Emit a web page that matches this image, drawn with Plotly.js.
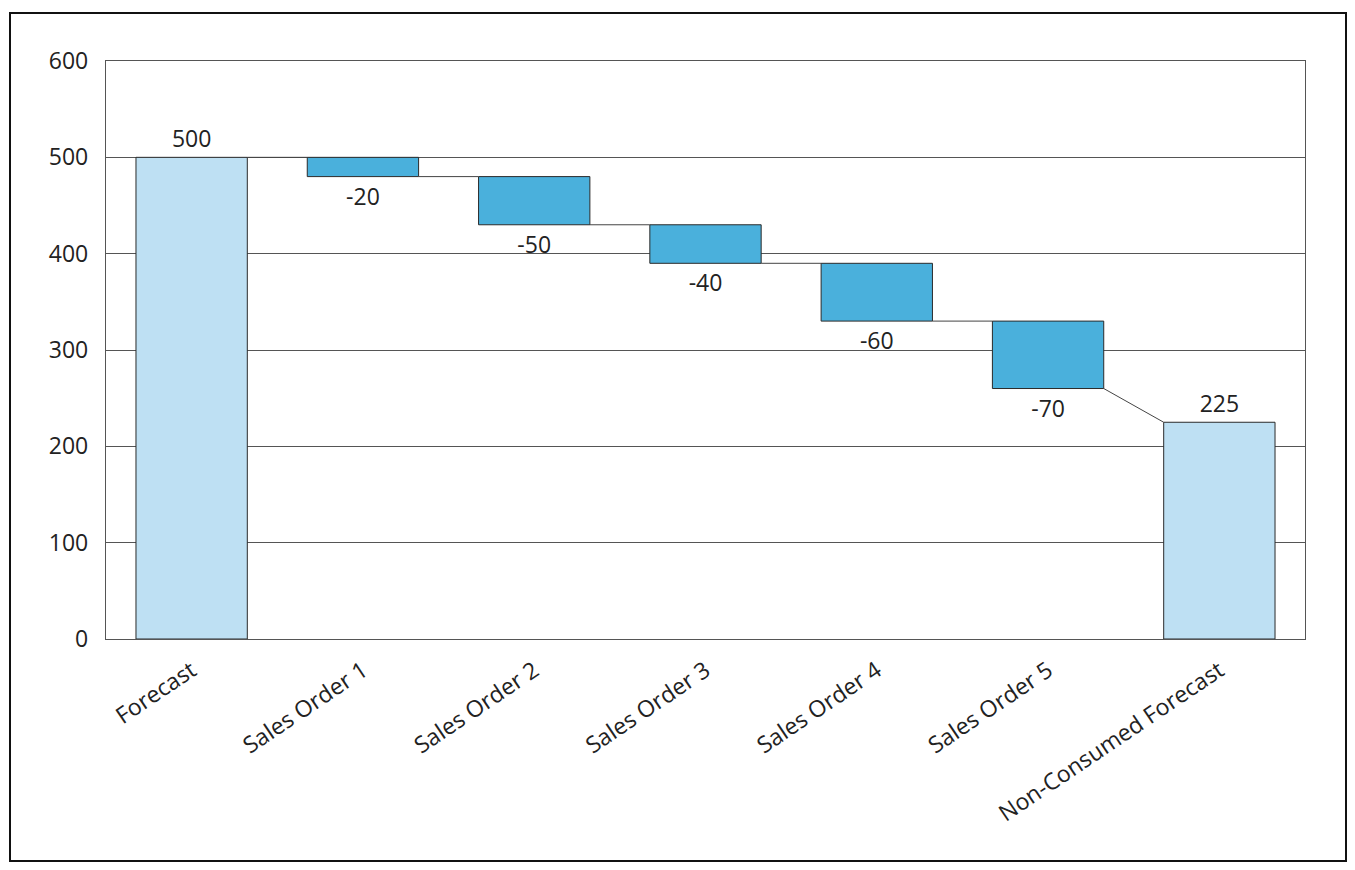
<!DOCTYPE html>
<html>
<head>
<meta charset="utf-8">
<script src="https://cdn.plot.ly/plotly-3.0.1.min.js"></script>
<style>
html,body{margin:0;padding:0;background:#fff;}
#wrap{position:relative;width:1355px;height:870px;}
#chart{position:absolute;left:0;top:0;width:1355px;height:870px;}
#frame{position:absolute;left:9px;top:12px;width:1334px;height:846px;border:2px solid #111;pointer-events:none;}
</style>
</head>
<body>
<div id="wrap"><div id="chart"></div><div id="frame"></div></div>
<script>
const categories = ["Forecast","Sales Order 1","Sales Order 2","Sales Order 3","Sales Order 4","Sales Order 5","Non-Consumed Forecast"];
const values = [500,-20,-50,-40,-60,-70,225];
const measures = ["absolute","relative","relative","relative","relative","relative","absolute"];
const yTicks = [0,100,200,300,400,500,600];

const colorTotal = "#BEE0F3";
const colorDelta = "#4AB0DC";
const barWidth = 0.65;
const fontFam = "Open Sans, Noto Sans, sans-serif";

// compute bases and end levels
const bases = [], ends = [], starts = [];
let running = 0;
values.forEach((v,i)=>{
  if(measures[i]==="absolute"){
    bases.push(0); starts.push(v); running = v; ends.push(v);
  } else {
    bases.push(running); starts.push(running); running += v; ends.push(running);
  }
});
const xs = categories.map((c,i)=>i);

const bar = {
  type:"bar",
  x: xs,
  y: values,
  base: bases,
  width: barWidth,
  marker:{color: measures.map(m=>m==="absolute"?colorTotal:colorDelta), line:{color:"#2a2a2a", width:1}},
  text: values.map(v=>String(v)),
  textposition:"outside",
  cliponaxis:false,
  textfont:{family:fontFam, size:23, color:"#222"},
  hoverinfo:"skip"
};

// connectors
const cx = [], cy = [];
for(let i=0;i<values.length-1;i++){
  cx.push(i+barWidth/2, i+1-barWidth/2, null);
  cy.push(ends[i], starts[i+1], null);
}
const conn = {type:"scatter", mode:"lines", x:cx, y:cy, line:{color:"#444", width:1}, hoverinfo:"skip", connectgaps:false};

const layout = {
  width:1355, height:870,
  margin:{l:106, r:50, t:61, b:231},
  paper_bgcolor:"#fff", plot_bgcolor:"#fff",
  showlegend:false,
  bargap:0,
  font:{family:fontFam, size:23, color:"#222"},
  xaxis:{
    range:[-0.5, 6.5],
    tickvals: xs, ticktext: categories,
    tickangle:-34,
    showgrid:false, zeroline:false,
    showline:true, mirror:true, linecolor:"#555", linewidth:1.2,
    ticks:"outside", ticklen:8, tickcolor:"rgba(0,0,0,0)",
    tickfont:{size:23, color:"#222"}
  },
  yaxis:{
    range:[0,600], tickvals:yTicks,
    showgrid:true, gridcolor:"#555", gridwidth:1,
    zeroline:false,
    showline:true, mirror:true, linecolor:"#555", linewidth:1.2,
    ticks:"outside", ticklen:12, tickcolor:"rgba(0,0,0,0)",
    tickfont:{size:23, color:"#222"}
  }
};

Plotly.newPlot("chart",[conn, bar],layout,{displayModeBar:false, staticPlot:true});
</script>
</body>
</html>
